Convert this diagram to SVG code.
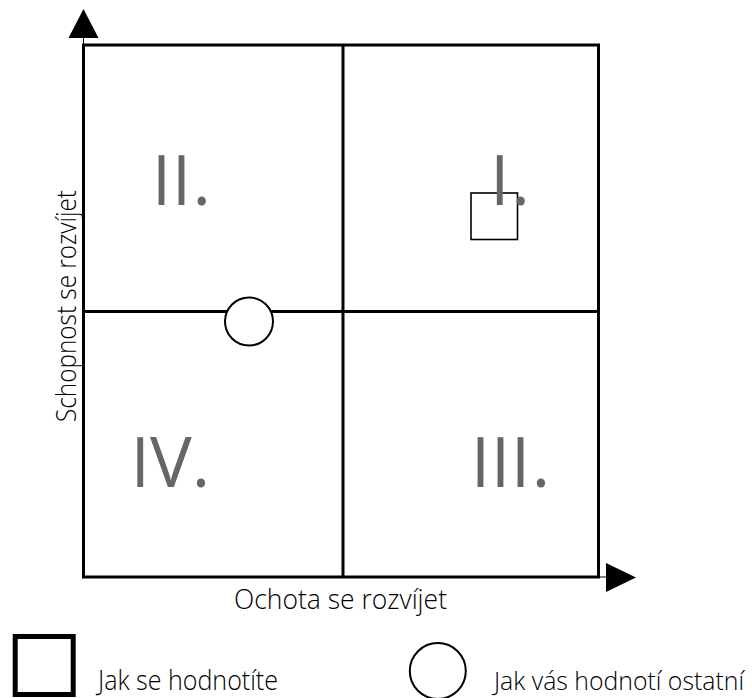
<svg xmlns="http://www.w3.org/2000/svg" width="752" height="698" viewBox="0 0 752 698">
  <style>
    .grid { fill: none; stroke: #000; stroke-width: 3; }
    .thin { stroke: #000; stroke-width: 1; }
    .num { font-family: "Open Sans", "Liberation Sans", sans-serif; font-weight: 400; font-size: 70px; fill: #666; }
    .lbl { font-family: "Open Sans", "Liberation Sans", sans-serif; font-weight: 300; font-size: 27px; fill: #000; }
    .lbl-s { font-size: 25.5px; }
    .mark { fill: none; stroke: #000; }
    .disc { fill: #fff; stroke: #000; }
  </style>
  <rect width="752" height="698" fill="#fff"/>

  <!-- axes and quadrant grid -->
  <g id="connectors">
    <line class="thin" x1="83.5" y1="38" x2="83.5" y2="45"/>
    <polygon points="83.5,9 68.5,38 98.5,38" fill="#000"/>
    <line class="thin" x1="598" y1="577" x2="606" y2="577"/>
    <polygon points="636,577.5 606,563 606,592" fill="#000"/>
    <rect class="grid" x="83.5" y="45" width="515" height="532"/>
    <line class="grid" x1="343" y1="45" x2="343" y2="577"/>
    <line class="grid" x1="83.5" y1="311.5" x2="598.5" y2="311.5"/>
  </g>

  <!-- self-assessment marker (numeral drawn over it) -->
  <g id="self-mark"><rect class="mark" x="471" y="193" width="46.5" height="46.5" stroke-width="1.6"/></g>

  <!-- quadrant labels -->
  <g id="q2"><text class="num" x="151.7 171.7 192.4" y="205">II.</text></g>
  <g id="q1"><text class="num" x="490.1 511.4" y="205">I.</text></g>
  <g id="q4"><text class="num" x="130.5" y="487">IV.</text></g>
  <g id="q3"><text class="num" x="470.7 490.7 510.7 531.7" y="487">III.</text></g>

  <!-- axis titles -->
  <g id="axis-x"><text class="lbl" x="234" y="608.5" textLength="213" lengthAdjust="spacingAndGlyphs">Ochota se rozvíjet</text></g>
  <g id="axis-y"><text class="lbl" transform="translate(76 306) rotate(-90)" text-anchor="middle" textLength="232" lengthAdjust="spacingAndGlyphs">Schopnost se rozvíjet</text></g>

  <!-- peer-assessment marker -->
  <g id="peer-mark"><circle class="disc" cx="249" cy="321.5" r="24" stroke-width="2"/></g>

  <!-- legend -->
  <g id="legend-self">
    <rect class="disc" x="15.2" y="636.5" width="58" height="58" stroke-width="5"/>
    <text class="lbl" x="98" y="690" textLength="180" lengthAdjust="spacingAndGlyphs">Jak se hodnotíte</text>
  </g>
  <g id="legend-peer">
    <circle class="disc" cx="437.8" cy="671" r="28" stroke-width="2"/>
    <text class="lbl lbl-s" x="494" y="690" textLength="250" lengthAdjust="spacingAndGlyphs">Jak vás hodnotí ostatní</text>
  </g>
</svg>
